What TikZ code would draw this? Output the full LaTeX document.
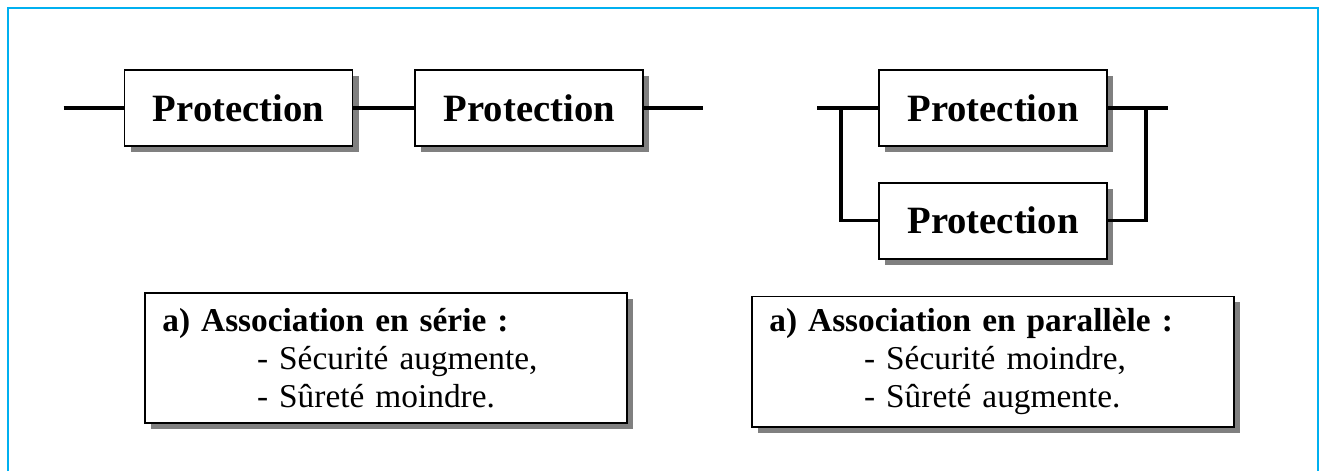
\documentclass[tikz,border=0pt]{standalone}
\usepackage{fontspec}
\setmainfont{Liberation Serif}
\usepackage{xcolor}
\usetikzlibrary{positioning, shadows}
\definecolor{framecyan}{RGB}{0,176,240}
\tikzstyle{protect} = [rectangle, minimum width=171pt, minimum height=57pt, text centered, draw=black, line width=1.3pt, fill=white, font=\fontsize{29}{34}\selectfont\bfseries, drop shadow={shadow xshift=4.5pt, shadow yshift=-4.5pt, fill=black!50, opacity=1}]
\tikzstyle{note} = [rectangle, minimum width=361pt, minimum height=98pt, text width=335.5pt, inner xsep=12.75pt, align=left, draw=black, line width=1.3pt, fill=white, font=\fontsize{25}{28.5}\selectfont, drop shadow={shadow xshift=4.5pt, shadow yshift=-4.5pt, fill=black!50, opacity=1}]
\tikzstyle{wire} = [line width=2.6pt]
\tikzstyle{frame} = [line width=1.6pt, draw=framecyan]

\begin{document}
\begin{tikzpicture}[node distance=45.75pt]
\useasboundingbox (0,0) rectangle (995.25pt,-353.25pt);

% Frame
\draw[frame] (6pt,-353.25pt) -- (6pt,-6pt) -- (988.5pt,-6pt) -- (988.5pt,-353.25pt);

% Series
\node (s1) [protect] at (178.9pt,-81pt) {Protection};
\node (s2) [protect, right=of s1] {Protection};
\coordinate [left=45pt of s1.west] (sin);
\coordinate [right=44.25pt of s2.east] (sout);
\draw[wire] (sin) -- (s1.west);
\draw[wire] (s1.east) -- (s2.west);
\draw[wire] (s2.east) -- (sout);

% Parallel
\node (p1) [protect, right=175.5pt of s2] {Protection};
\node (p2) [protect, below=26.25pt of p1] {Protection};
\coordinate [left=45.75pt of p1.west] (pin);
\coordinate [left=27.75pt of p1.west] (pjl);
\coordinate [right=45pt of p1.east] (pout);
\coordinate [right=28.5pt of p1.east] (pjr);
\draw[wire] (pin) -- (p1.west);
\draw[wire] (pjl) |- (p2.west);
\draw[wire] (p1.east) -- (pout);
\draw[wire] (pjr) |- (p2.east);

% Notes
\node (sn) [note] at (289.5pt,-268.5pt) {\textbf{a) Association en série :}\\
    \hspace*{71pt}- Sécurité augmente,\\
    \hspace*{71pt}- Sûreté moindre.};
\node (pn) [note, below=27pt of p2] {\textbf{a) Association en parallèle :}\\
    \hspace*{71pt}- Sécurité moindre,\\
    \hspace*{71pt}- Sûreté augmente.};

\end{tikzpicture}
\end{document}
